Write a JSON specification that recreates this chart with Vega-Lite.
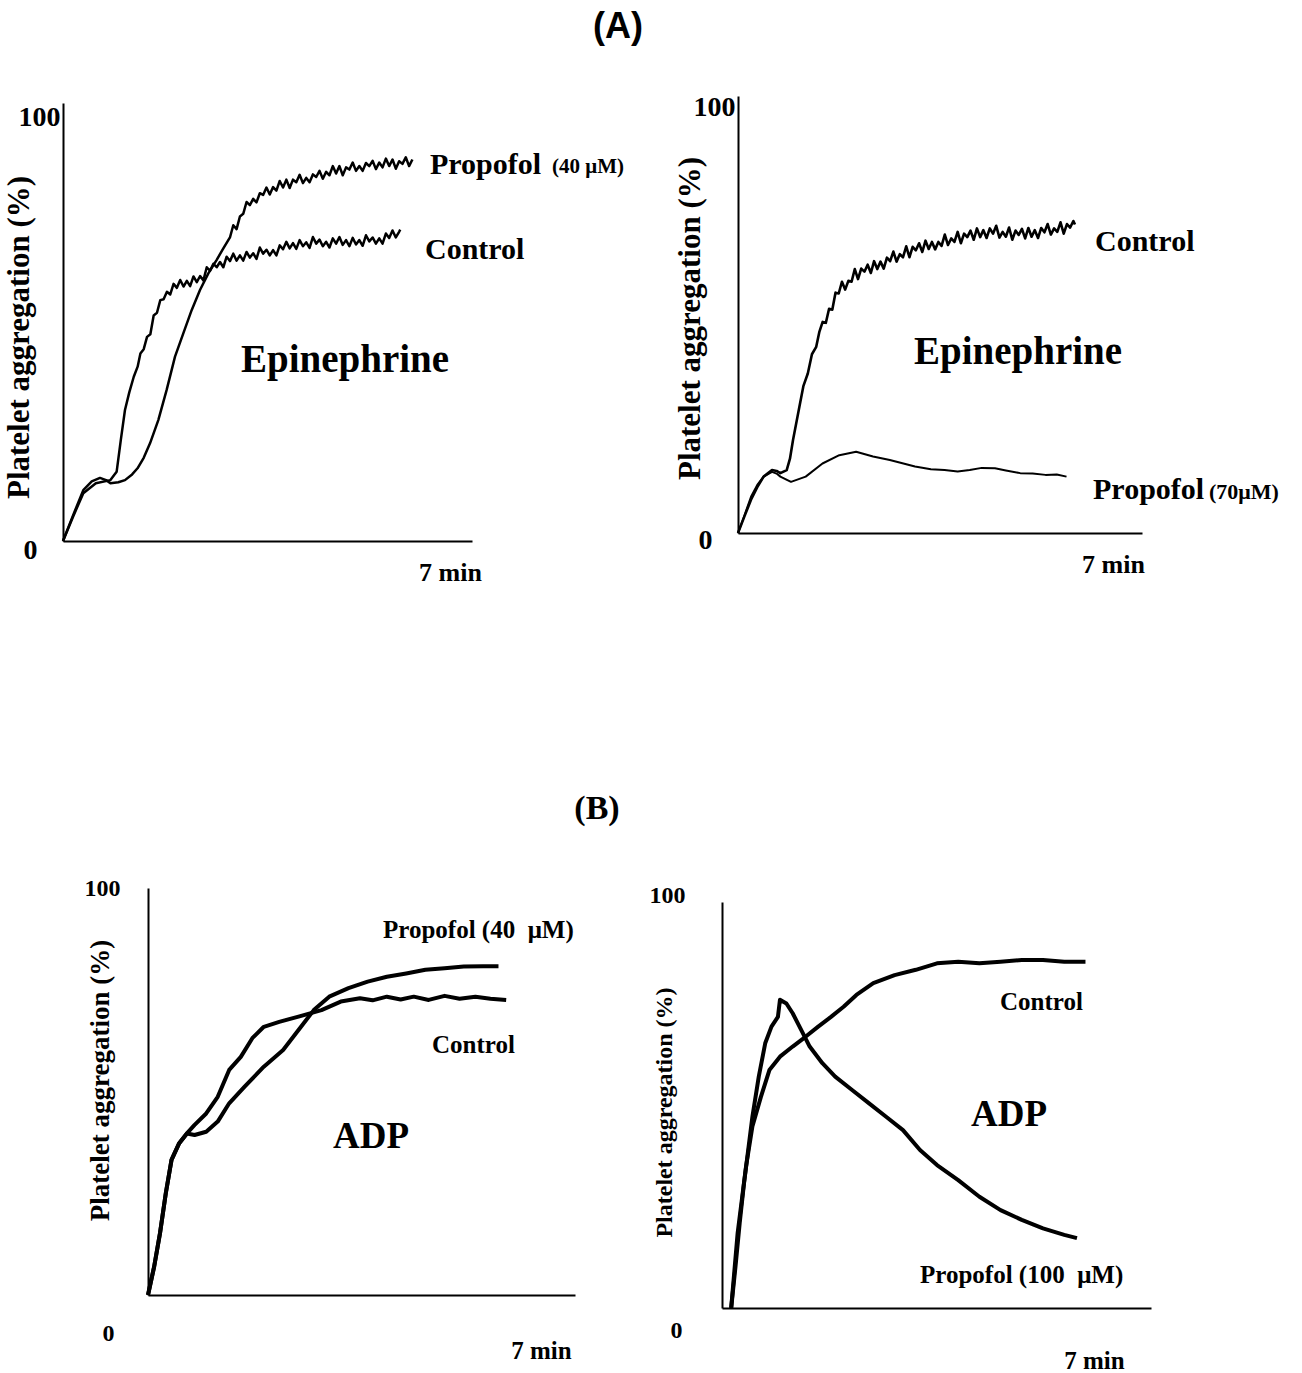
{
  "$schema": "https://vega.github.io/schema/vega-lite/v6.json",
  "background": "white",
  "padding": {"left": 3, "top": 9, "right": 5, "bottom": 3},
  "bounds": "flush",
  "spacing": 792,
  "config": {
    "view": {"stroke": null},
    "axis": {
      "grid": false, "ticks": false, "tickSize": 0,
      "domainColor": "black", "domainWidth": 2,
      "labelColor": "black", "labelFont": "Liberation Serif", "labelFontWeight": "bold",
      "labelFlush": false, "labelOverlap": false, "labelBaseline": "middle",
      "titleColor": "black", "titleFont": "Liberation Serif", "titleFontWeight": "bold",
      "titleBaseline": "middle", "titleAlign": "center", "titleAngle": -90
    },
    "text": {"font": "Liberation Serif", "fontWeight": "bold", "color": "black"}
  },
  "datasets": {
    "curves": [
      {"panel":"A1","series":"Control","t":0,"agg":0},
      {"panel":"A1","series":"Control","t":0.18,"agg":5.5},
      {"panel":"A1","series":"Control","t":0.367,"agg":10.9},
      {"panel":"A1","series":"Control","t":0.594,"agg":13.2},
      {"panel":"A1","series":"Control","t":0.858,"agg":13.9},
      {"panel":"A1","series":"Control","t":0.97,"agg":15.8},
      {"panel":"A1","series":"Control","t":1.046,"agg":23.1},
      {"panel":"A1","series":"Control","t":1.121,"agg":29.9},
      {"panel":"A1","series":"Control","t":1.2,"agg":34.0},
      {"panel":"A1","series":"Control","t":1.28,"agg":37.5},
      {"panel":"A1","series":"Control","t":1.35,"agg":39.8},
      {"panel":"A1","series":"Control","t":1.40,"agg":42.8},
      {"panel":"A1","series":"Control","t":1.46,"agg":43.8},
      {"panel":"A1","series":"Control","t":1.52,"agg":46.6},
      {"panel":"A1","series":"Control","t":1.58,"agg":47.2},
      {"panel":"A1","series":"Control","t":1.64,"agg":51.5},
      {"panel":"A1","series":"Control","t":1.70,"agg":52.1},
      {"panel":"A1","series":"Control","t":1.76,"agg":55.0},
      {"panel":"A1","series":"Control","t":1.82,"agg":55.2},
      {"panel":"A1","series":"Control","t":1.88,"agg":56.9},
      {"panel":"A1","series":"Control","t":1.94,"agg":56.3},
      {"panel":"A1","series":"Control","t":2.00,"agg":58.7},
      {"panel":"A1","series":"Control","t":2.06,"agg":57.8},
      {"panel":"A1","series":"Control","t":2.12,"agg":59.6},
      {"panel":"A1","series":"Control","t":2.18,"agg":58.1},
      {"panel":"A1","series":"Control","t":2.24,"agg":59.4},
      {"panel":"A1","series":"Control","t":2.30,"agg":58.2},
      {"panel":"A1","series":"Control","t":2.36,"agg":60.4},
      {"panel":"A1","series":"Control","t":2.42,"agg":59.1},
      {"panel":"A1","series":"Control","t":2.48,"agg":60.5},
      {"panel":"A1","series":"Control","t":2.54,"agg":59.5},
      {"panel":"A1","series":"Control","t":2.60,"agg":62.5},
      {"panel":"A1","series":"Control","t":2.66,"agg":61.7},
      {"panel":"A1","series":"Control","t":2.72,"agg":63.3},
      {"panel":"A1","series":"Control","t":2.78,"agg":62.5},
      {"panel":"A1","series":"Control","t":2.84,"agg":63.7},
      {"panel":"A1","series":"Control","t":2.90,"agg":62.5},
      {"panel":"A1","series":"Control","t":2.96,"agg":64.9},
      {"panel":"A1","series":"Control","t":3.02,"agg":63.9},
      {"panel":"A1","series":"Control","t":3.08,"agg":65.6},
      {"panel":"A1","series":"Control","t":3.14,"agg":64.0},
      {"panel":"A1","series":"Control","t":3.20,"agg":65.2},
      {"panel":"A1","series":"Control","t":3.26,"agg":64.0},
      {"panel":"A1","series":"Control","t":3.32,"agg":66.0},
      {"panel":"A1","series":"Control","t":3.38,"agg":64.7},
      {"panel":"A1","series":"Control","t":3.44,"agg":65.7},
      {"panel":"A1","series":"Control","t":3.50,"agg":64.4},
      {"panel":"A1","series":"Control","t":3.56,"agg":67.0},
      {"panel":"A1","series":"Control","t":3.62,"agg":65.6},
      {"panel":"A1","series":"Control","t":3.68,"agg":66.5},
      {"panel":"A1","series":"Control","t":3.74,"agg":65.2},
      {"panel":"A1","series":"Control","t":3.80,"agg":66.4},
      {"panel":"A1","series":"Control","t":3.86,"agg":65.2},
      {"panel":"A1","series":"Control","t":3.92,"agg":67.5},
      {"panel":"A1","series":"Control","t":3.98,"agg":66.6},
      {"panel":"A1","series":"Control","t":4.04,"agg":68.3},
      {"panel":"A1","series":"Control","t":4.10,"agg":66.8},
      {"panel":"A1","series":"Control","t":4.16,"agg":68.0},
      {"panel":"A1","series":"Control","t":4.22,"agg":66.7},
      {"panel":"A1","series":"Control","t":4.28,"agg":68.7},
      {"panel":"A1","series":"Control","t":4.34,"agg":67.3},
      {"panel":"A1","series":"Control","t":4.40,"agg":68.2},
      {"panel":"A1","series":"Control","t":4.46,"agg":66.9},
      {"panel":"A1","series":"Control","t":4.52,"agg":69.4},
      {"panel":"A1","series":"Control","t":4.58,"agg":67.9},
      {"panel":"A1","series":"Control","t":4.64,"agg":68.8},
      {"panel":"A1","series":"Control","t":4.70,"agg":67.3},
      {"panel":"A1","series":"Control","t":4.76,"agg":68.3},
      {"panel":"A1","series":"Control","t":4.82,"agg":67.0},
      {"panel":"A1","series":"Control","t":4.88,"agg":69.1},
      {"panel":"A1","series":"Control","t":4.94,"agg":67.9},
      {"panel":"A1","series":"Control","t":5.00,"agg":69.4},
      {"panel":"A1","series":"Control","t":5.06,"agg":67.6},
      {"panel":"A1","series":"Control","t":5.12,"agg":68.7},
      {"panel":"A1","series":"Control","t":5.18,"agg":67.3},
      {"panel":"A1","series":"Control","t":5.24,"agg":69.2},
      {"panel":"A1","series":"Control","t":5.30,"agg":67.7},
      {"panel":"A1","series":"Control","t":5.36,"agg":68.7},
      {"panel":"A1","series":"Control","t":5.42,"agg":67.4},
      {"panel":"A1","series":"Control","t":5.48,"agg":69.8},
      {"panel":"A1","series":"Control","t":5.54,"agg":68.4},
      {"panel":"A1","series":"Control","t":5.60,"agg":69.3},
      {"panel":"A1","series":"Control","t":5.66,"agg":67.9},
      {"panel":"A1","series":"Control","t":5.72,"agg":69.1},
      {"panel":"A1","series":"Control","t":5.78,"agg":67.9},
      {"panel":"A1","series":"Control","t":5.84,"agg":70.2},
      {"panel":"A1","series":"Control","t":5.90,"agg":69.2},
      {"panel":"A1","series":"Control","t":5.96,"agg":70.9},
      {"panel":"A1","series":"Control","t":6.02,"agg":69.3},
      {"panel":"A1","series":"Control","t":6.08,"agg":70.6},
      {"panel":"A1","series":"Control","t":6.10,"agg":71.1},

      {"panel":"A1","series":"Propofol","t":0,"agg":0},
      {"panel":"A1","series":"Propofol","t":0.18,"agg":5.8},
      {"panel":"A1","series":"Propofol","t":0.367,"agg":11.6},
      {"panel":"A1","series":"Propofol","t":0.52,"agg":13.6},
      {"panel":"A1","series":"Propofol","t":0.669,"agg":14.4},
      {"panel":"A1","series":"Propofol","t":0.78,"agg":13.9},
      {"panel":"A1","series":"Propofol","t":0.858,"agg":13.2},
      {"panel":"A1","series":"Propofol","t":1.0,"agg":13.4},
      {"panel":"A1","series":"Propofol","t":1.121,"agg":13.9},
      {"panel":"A1","series":"Propofol","t":1.25,"agg":15.2},
      {"panel":"A1","series":"Propofol","t":1.348,"agg":16.6},
      {"panel":"A1","series":"Propofol","t":1.46,"agg":19.0},
      {"panel":"A1","series":"Propofol","t":1.574,"agg":22.3},
      {"panel":"A1","series":"Propofol","t":1.724,"agg":27.6},
      {"panel":"A1","series":"Propofol","t":1.875,"agg":34.5},
      {"panel":"A1","series":"Propofol","t":2.026,"agg":42.1},
      {"panel":"A1","series":"Propofol","t":2.176,"agg":47.4},
      {"panel":"A1","series":"Propofol","t":2.327,"agg":52.7},
      {"panel":"A1","series":"Propofol","t":2.478,"agg":57.3},
      {"panel":"A1","series":"Propofol","t":2.629,"agg":61.1},
      {"panel":"A1","series":"Propofol","t":2.78,"agg":64.2},
      {"panel":"A1","series":"Propofol","t":2.90,"agg":66.8},
      {"panel":"A1","series":"Propofol","t":3.02,"agg":69.3},
      {"panel":"A1","series":"Propofol","t":3.08,"agg":72.1},
      {"panel":"A1","series":"Propofol","t":3.14,"agg":71.2},
      {"panel":"A1","series":"Propofol","t":3.20,"agg":74.1},
      {"panel":"A1","series":"Propofol","t":3.26,"agg":74.7},
      {"panel":"A1","series":"Propofol","t":3.32,"agg":77.4},
      {"panel":"A1","series":"Propofol","t":3.38,"agg":76.7},
      {"panel":"A1","series":"Propofol","t":3.44,"agg":78.1},
      {"panel":"A1","series":"Propofol","t":3.50,"agg":77.3},
      {"panel":"A1","series":"Propofol","t":3.56,"agg":79.4},
      {"panel":"A1","series":"Propofol","t":3.62,"agg":79.0},
      {"panel":"A1","series":"Propofol","t":3.68,"agg":80.7},
      {"panel":"A1","series":"Propofol","t":3.74,"agg":79.1},
      {"panel":"A1","series":"Propofol","t":3.80,"agg":80.8},
      {"panel":"A1","series":"Propofol","t":3.86,"agg":80.0},
      {"panel":"A1","series":"Propofol","t":3.92,"agg":82.2},
      {"panel":"A1","series":"Propofol","t":3.98,"agg":80.7},
      {"panel":"A1","series":"Propofol","t":4.04,"agg":82.5},
      {"panel":"A1","series":"Propofol","t":4.10,"agg":80.6},
      {"panel":"A1","series":"Propofol","t":4.16,"agg":82.5},
      {"panel":"A1","series":"Propofol","t":4.22,"agg":81.9},
      {"panel":"A1","series":"Propofol","t":4.28,"agg":83.6},
      {"panel":"A1","series":"Propofol","t":4.34,"agg":81.7},
      {"panel":"A1","series":"Propofol","t":4.40,"agg":82.9},
      {"panel":"A1","series":"Propofol","t":4.46,"agg":81.9},
      {"panel":"A1","series":"Propofol","t":4.52,"agg":83.7},
      {"panel":"A1","series":"Propofol","t":4.58,"agg":83.1},
      {"panel":"A1","series":"Propofol","t":4.64,"agg":84.5},
      {"panel":"A1","series":"Propofol","t":4.70,"agg":82.7},
      {"panel":"A1","series":"Propofol","t":4.76,"agg":84.3},
      {"panel":"A1","series":"Propofol","t":4.82,"agg":83.5},
      {"panel":"A1","series":"Propofol","t":4.88,"agg":85.6},
      {"panel":"A1","series":"Propofol","t":4.94,"agg":83.9},
      {"panel":"A1","series":"Propofol","t":5.00,"agg":85.6},
      {"panel":"A1","series":"Propofol","t":5.06,"agg":83.5},
      {"panel":"A1","series":"Propofol","t":5.12,"agg":85.3},
      {"panel":"A1","series":"Propofol","t":5.18,"agg":84.8},
      {"panel":"A1","series":"Propofol","t":5.24,"agg":86.4},
      {"panel":"A1","series":"Propofol","t":5.30,"agg":84.5},
      {"panel":"A1","series":"Propofol","t":5.36,"agg":85.6},
      {"panel":"A1","series":"Propofol","t":5.42,"agg":84.5},
      {"panel":"A1","series":"Propofol","t":5.48,"agg":86.3},
      {"panel":"A1","series":"Propofol","t":5.54,"agg":85.6},
      {"panel":"A1","series":"Propofol","t":5.60,"agg":86.8},
      {"panel":"A1","series":"Propofol","t":5.66,"agg":84.9},
      {"panel":"A1","series":"Propofol","t":5.72,"agg":86.4},
      {"panel":"A1","series":"Propofol","t":5.78,"agg":85.3},
      {"panel":"A1","series":"Propofol","t":5.84,"agg":87.3},
      {"panel":"A1","series":"Propofol","t":5.90,"agg":85.6},
      {"panel":"A1","series":"Propofol","t":5.96,"agg":87.1},
      {"panel":"A1","series":"Propofol","t":6.02,"agg":85.0},
      {"panel":"A1","series":"Propofol","t":6.08,"agg":86.7},
      {"panel":"A1","series":"Propofol","t":6.14,"agg":86.1},
      {"panel":"A1","series":"Propofol","t":6.20,"agg":87.6},
      {"panel":"A1","series":"Propofol","t":6.26,"agg":85.6},
      {"panel":"A1","series":"Propofol","t":6.32,"agg":87.1},

      {"panel":"A2","series":"Control","t":0,"agg":0},
      {"panel":"A2","series":"Control","t":0.12,"agg":3.8},
      {"panel":"A2","series":"Control","t":0.243,"agg":7.6},
      {"panel":"A2","series":"Control","t":0.36,"agg":10.5},
      {"panel":"A2","series":"Control","t":0.478,"agg":12.9},
      {"panel":"A2","series":"Control","t":0.635,"agg":14.4},
      {"panel":"A2","series":"Control","t":0.72,"agg":14.2},
      {"panel":"A2","series":"Control","t":0.791,"agg":13.7},
      {"panel":"A2","series":"Control","t":0.909,"agg":14.4},
      {"panel":"A2","series":"Control","t":0.97,"agg":17.0},
      {"panel":"A2","series":"Control","t":1.027,"agg":21.3},
      {"panel":"A2","series":"Control","t":1.146,"agg":28.9},
      {"panel":"A2","series":"Control","t":1.22,"agg":33.6},
      {"panel":"A2","series":"Control","t":1.303,"agg":36.5},
      {"panel":"A2","series":"Control","t":1.38,"agg":40.9},
      {"panel":"A2","series":"Control","t":1.46,"agg":42.6},
      {"panel":"A2","series":"Control","t":1.52,"agg":46.1},
      {"panel":"A2","series":"Control","t":1.58,"agg":48.3},
      {"panel":"A2","series":"Control","t":1.64,"agg":48.1},
      {"panel":"A2","series":"Control","t":1.70,"agg":51.3},
      {"panel":"A2","series":"Control","t":1.76,"agg":51.1},
      {"panel":"A2","series":"Control","t":1.82,"agg":55.0},
      {"panel":"A2","series":"Control","t":1.88,"agg":54.8},
      {"panel":"A2","series":"Control","t":1.94,"agg":57.5},
      {"panel":"A2","series":"Control","t":2.00,"agg":55.7},
      {"panel":"A2","series":"Control","t":2.06,"agg":57.7},
      {"panel":"A2","series":"Control","t":2.12,"agg":57.5},
      {"panel":"A2","series":"Control","t":2.18,"agg":60.4},
      {"panel":"A2","series":"Control","t":2.24,"agg":58.1},
      {"panel":"A2","series":"Control","t":2.30,"agg":60.5},
      {"panel":"A2","series":"Control","t":2.36,"agg":59.8},
      {"panel":"A2","series":"Control","t":2.42,"agg":61.4},
      {"panel":"A2","series":"Control","t":2.48,"agg":59.5},
      {"panel":"A2","series":"Control","t":2.54,"agg":62.2},
      {"panel":"A2","series":"Control","t":2.60,"agg":60.4},
      {"panel":"A2","series":"Control","t":2.66,"agg":62.1},
      {"panel":"A2","series":"Control","t":2.72,"agg":60.5},
      {"panel":"A2","series":"Control","t":2.78,"agg":63.0},
      {"panel":"A2","series":"Control","t":2.84,"agg":62.2},
      {"panel":"A2","series":"Control","t":2.90,"agg":64.4},
      {"panel":"A2","series":"Control","t":2.96,"agg":62.1},
      {"panel":"A2","series":"Control","t":3.02,"agg":63.8},
      {"panel":"A2","series":"Control","t":3.08,"agg":63.1},
      {"panel":"A2","series":"Control","t":3.14,"agg":65.6},
      {"panel":"A2","series":"Control","t":3.20,"agg":63.1},
      {"panel":"A2","series":"Control","t":3.26,"agg":65.5},
      {"panel":"A2","series":"Control","t":3.32,"agg":64.7},
      {"panel":"A2","series":"Control","t":3.38,"agg":66.3},
      {"panel":"A2","series":"Control","t":3.44,"agg":64.3},
      {"panel":"A2","series":"Control","t":3.50,"agg":66.9},
      {"panel":"A2","series":"Control","t":3.56,"agg":65.0},
      {"panel":"A2","series":"Control","t":3.62,"agg":66.6},
      {"panel":"A2","series":"Control","t":3.68,"agg":64.9},
      {"panel":"A2","series":"Control","t":3.74,"agg":66.6},
      {"panel":"A2","series":"Control","t":3.80,"agg":65.7},
      {"panel":"A2","series":"Control","t":3.86,"agg":68.3},
      {"panel":"A2","series":"Control","t":3.92,"agg":65.9},
      {"panel":"A2","series":"Control","t":3.98,"agg":67.4},
      {"panel":"A2","series":"Control","t":4.04,"agg":66.6},
      {"panel":"A2","series":"Control","t":4.10,"agg":68.9},
      {"panel":"A2","series":"Control","t":4.16,"agg":66.3},
      {"panel":"A2","series":"Control","t":4.22,"agg":68.5},
      {"panel":"A2","series":"Control","t":4.28,"agg":67.7},
      {"panel":"A2","series":"Control","t":4.34,"agg":69.2},
      {"panel":"A2","series":"Control","t":4.40,"agg":67.1},
      {"panel":"A2","series":"Control","t":4.46,"agg":69.7},
      {"panel":"A2","series":"Control","t":4.52,"agg":67.7},
      {"panel":"A2","series":"Control","t":4.58,"agg":69.3},
      {"panel":"A2","series":"Control","t":4.64,"agg":67.5},
      {"panel":"A2","series":"Control","t":4.70,"agg":69.7},
      {"panel":"A2","series":"Control","t":4.76,"agg":68.5},
      {"panel":"A2","series":"Control","t":4.82,"agg":70.3},
      {"panel":"A2","series":"Control","t":4.88,"agg":67.6},
      {"panel":"A2","series":"Control","t":4.94,"agg":68.9},
      {"panel":"A2","series":"Control","t":5.00,"agg":67.8},
      {"panel":"A2","series":"Control","t":5.06,"agg":69.9},
      {"panel":"A2","series":"Control","t":5.12,"agg":67.1},
      {"panel":"A2","series":"Control","t":5.18,"agg":69.2},
      {"panel":"A2","series":"Control","t":5.24,"agg":68.2},
      {"panel":"A2","series":"Control","t":5.30,"agg":69.6},
      {"panel":"A2","series":"Control","t":5.36,"agg":67.4},
      {"panel":"A2","series":"Control","t":5.42,"agg":69.8},
      {"panel":"A2","series":"Control","t":5.48,"agg":67.8},
      {"panel":"A2","series":"Control","t":5.54,"agg":69.3},
      {"panel":"A2","series":"Control","t":5.60,"agg":67.5},
      {"panel":"A2","series":"Control","t":5.66,"agg":69.8},
      {"panel":"A2","series":"Control","t":5.72,"agg":68.8},
      {"panel":"A2","series":"Control","t":5.78,"agg":70.7},
      {"panel":"A2","series":"Control","t":5.84,"agg":68.3},
      {"panel":"A2","series":"Control","t":5.90,"agg":69.7},
      {"panel":"A2","series":"Control","t":5.96,"agg":68.9},
      {"panel":"A2","series":"Control","t":6.02,"agg":71.1},
      {"panel":"A2","series":"Control","t":6.08,"agg":68.5},
      {"panel":"A2","series":"Control","t":6.14,"agg":70.7},
      {"panel":"A2","series":"Control","t":6.20,"agg":69.9},
      {"panel":"A2","series":"Control","t":6.26,"agg":71.4},
      {"panel":"A2","series":"Control","t":6.29,"agg":70.6},

      {"panel":"A2","series":"Propofol","t":0,"agg":0},
      {"panel":"A2","series":"Propofol","t":0.12,"agg":4.0},
      {"panel":"A2","series":"Propofol","t":0.243,"agg":8.3},
      {"panel":"A2","series":"Propofol","t":0.36,"agg":11.0},
      {"panel":"A2","series":"Propofol","t":0.478,"agg":12.9},
      {"panel":"A2","series":"Propofol","t":0.635,"agg":14.0},
      {"panel":"A2","series":"Propofol","t":0.72,"agg":13.6},
      {"panel":"A2","series":"Propofol","t":0.791,"agg":12.9},
      {"panel":"A2","series":"Propofol","t":0.989,"agg":11.7},
      {"panel":"A2","series":"Propofol","t":1.264,"agg":12.9},
      {"panel":"A2","series":"Propofol","t":1.577,"agg":15.9},
      {"panel":"A2","series":"Propofol","t":1.891,"agg":17.8},
      {"panel":"A2","series":"Propofol","t":2.205,"agg":18.6},
      {"panel":"A2","series":"Propofol","t":2.52,"agg":17.5},
      {"panel":"A2","series":"Propofol","t":2.834,"agg":16.7},
      {"panel":"A2","series":"Propofol","t":3.304,"agg":15.2},
      {"panel":"A2","series":"Propofol","t":3.6,"agg":14.6},
      {"panel":"A2","series":"Propofol","t":3.855,"agg":14.4},
      {"panel":"A2","series":"Propofol","t":4.1,"agg":14.1},
      {"panel":"A2","series":"Propofol","t":4.325,"agg":14.4},
      {"panel":"A2","series":"Propofol","t":4.55,"agg":14.9},
      {"panel":"A2","series":"Propofol","t":4.797,"agg":14.8},
      {"panel":"A2","series":"Propofol","t":5.0,"agg":14.3},
      {"panel":"A2","series":"Propofol","t":5.268,"agg":13.7},
      {"panel":"A2","series":"Propofol","t":5.5,"agg":13.6},
      {"panel":"A2","series":"Propofol","t":5.74,"agg":13.3},
      {"panel":"A2","series":"Propofol","t":5.95,"agg":13.4},
      {"panel":"A2","series":"Propofol","t":6.132,"agg":12.9},

      {"panel":"B1","series":"Control","t":0,"agg":0},
      {"panel":"B1","series":"Control","t":0.110,"agg":7.0},
      {"panel":"B1","series":"Control","t":0.214,"agg":15.2},
      {"panel":"B1","series":"Control","t":0.317,"agg":25.0},
      {"panel":"B1","series":"Control","t":0.419,"agg":33.2},
      {"panel":"B1","series":"Control","t":0.556,"agg":37.3},
      {"panel":"B1","series":"Control","t":0.693,"agg":39.7},
      {"panel":"B1","series":"Control","t":0.830,"agg":41.8},
      {"panel":"B1","series":"Control","t":1.037,"agg":44.6},
      {"panel":"B1","series":"Control","t":1.242,"agg":48.7},
      {"panel":"B1","series":"Control","t":1.446,"agg":55.3},
      {"panel":"B1","series":"Control","t":1.653,"agg":58.5},
      {"panel":"B1","series":"Control","t":1.858,"agg":63.1},
      {"panel":"B1","series":"Control","t":2.063,"agg":65.9},
      {"panel":"B1","series":"Control","t":2.337,"agg":67.1},
      {"panel":"B1","series":"Control","t":2.681,"agg":68.4},
      {"panel":"B1","series":"Control","t":3.090,"agg":70.0},
      {"panel":"B1","series":"Control","t":3.434,"agg":72.1},
      {"panel":"B1","series":"Control","t":3.776,"agg":72.9},
      {"panel":"B1","series":"Control","t":4.0,"agg":72.4},
      {"panel":"B1","series":"Control","t":4.255,"agg":73.3},
      {"panel":"B1","series":"Control","t":4.5,"agg":72.6},
      {"panel":"B1","series":"Control","t":4.734,"agg":73.3},
      {"panel":"B1","series":"Control","t":5.0,"agg":72.5},
      {"panel":"B1","series":"Control","t":5.283,"agg":73.5},
      {"panel":"B1","series":"Control","t":5.55,"agg":72.8},
      {"panel":"B1","series":"Control","t":5.832,"agg":73.3},
      {"panel":"B1","series":"Control","t":6.1,"agg":72.8},
      {"panel":"B1","series":"Control","t":6.380,"agg":72.5},

      {"panel":"B1","series":"Propofol","t":0,"agg":0},
      {"panel":"B1","series":"Propofol","t":0.110,"agg":7.0},
      {"panel":"B1","series":"Propofol","t":0.214,"agg":15.2},
      {"panel":"B1","series":"Propofol","t":0.317,"agg":25.0},
      {"panel":"B1","series":"Propofol","t":0.419,"agg":33.2},
      {"panel":"B1","series":"Propofol","t":0.556,"agg":37.3},
      {"panel":"B1","series":"Propofol","t":0.693,"agg":39.7},
      {"panel":"B1","series":"Propofol","t":0.830,"agg":39.3},
      {"panel":"B1","series":"Propofol","t":1.037,"agg":40.1},
      {"panel":"B1","series":"Propofol","t":1.242,"agg":42.6},
      {"panel":"B1","series":"Propofol","t":1.446,"agg":47.1},
      {"panel":"B1","series":"Propofol","t":1.721,"agg":51.2},
      {"panel":"B1","series":"Propofol","t":2.063,"agg":56.1},
      {"panel":"B1","series":"Propofol","t":2.407,"agg":60.2},
      {"panel":"B1","series":"Propofol","t":2.681,"agg":65.1},
      {"panel":"B1","series":"Propofol","t":2.953,"agg":70.0},
      {"panel":"B1","series":"Propofol","t":3.228,"agg":73.3},
      {"panel":"B1","series":"Propofol","t":3.571,"agg":75.4},
      {"panel":"B1","series":"Propofol","t":3.913,"agg":77.0},
      {"panel":"B1","series":"Propofol","t":4.255,"agg":78.2},
      {"panel":"B1","series":"Propofol","t":4.599,"agg":79.0},
      {"panel":"B1","series":"Propofol","t":4.941,"agg":79.9},
      {"panel":"B1","series":"Propofol","t":5.283,"agg":80.3},
      {"panel":"B1","series":"Propofol","t":5.625,"agg":80.7},
      {"panel":"B1","series":"Propofol","t":5.969,"agg":80.8},
      {"panel":"B1","series":"Propofol","t":6.243,"agg":80.8},

      {"panel":"B2","series":"Propofol","t":0.173,"agg":0},
      {"panel":"B2","series":"Propofol","t":0.254,"agg":10.2},
      {"panel":"B2","series":"Propofol","t":0.333,"agg":20.9},
      {"panel":"B2","series":"Propofol","t":0.414,"agg":30.7},
      {"panel":"B2","series":"Propofol","t":0.493,"agg":38.9},
      {"panel":"B2","series":"Propofol","t":0.572,"agg":47.1},
      {"panel":"B2","series":"Propofol","t":0.692,"agg":57.0},
      {"panel":"B2","series":"Propofol","t":0.813,"agg":65.2},
      {"panel":"B2","series":"Propofol","t":0.931,"agg":69.3},
      {"panel":"B2","series":"Propofol","t":1.052,"agg":71.7},
      {"panel":"B2","series":"Propofol","t":1.091,"agg":75.9},
      {"panel":"B2","series":"Propofol","t":1.212,"agg":75.0},
      {"panel":"B2","series":"Propofol","t":1.330,"agg":72.6},
      {"panel":"B2","series":"Propofol","t":1.490,"agg":68.5},
      {"panel":"B2","series":"Propofol","t":1.650,"agg":64.4},
      {"panel":"B2","series":"Propofol","t":1.889,"agg":60.3},
      {"panel":"B2","series":"Propofol","t":2.130,"agg":57.0},
      {"panel":"B2","series":"Propofol","t":2.448,"agg":53.7},
      {"panel":"B2","series":"Propofol","t":2.768,"agg":50.4},
      {"panel":"B2","series":"Propofol","t":3.088,"agg":47.1},
      {"panel":"B2","series":"Propofol","t":3.406,"agg":43.8},
      {"panel":"B2","series":"Propofol","t":3.726,"agg":38.9},
      {"panel":"B2","series":"Propofol","t":4.046,"agg":35.2},
      {"panel":"B2","series":"Propofol","t":4.445,"agg":31.5},
      {"panel":"B2","series":"Propofol","t":4.844,"agg":27.4},
      {"panel":"B2","series":"Propofol","t":5.242,"agg":24.1},
      {"panel":"B2","series":"Propofol","t":5.641,"agg":21.7},
      {"panel":"B2","series":"Propofol","t":6.040,"agg":19.6},
      {"panel":"B2","series":"Propofol","t":6.441,"agg":18.0},
      {"panel":"B2","series":"Propofol","t":6.680,"agg":17.2},

      {"panel":"B2","series":"Control","t":0.173,"agg":0},
      {"panel":"B2","series":"Control","t":0.294,"agg":18.4},
      {"panel":"B2","series":"Control","t":0.452,"agg":34.8},
      {"panel":"B2","series":"Control","t":0.572,"agg":44.7},
      {"panel":"B2","series":"Control","t":0.732,"agg":52.0},
      {"panel":"B2","series":"Control","t":0.892,"agg":58.6},
      {"panel":"B2","series":"Control","t":1.091,"agg":61.9},
      {"panel":"B2","series":"Control","t":1.330,"agg":64.4},
      {"panel":"B2","series":"Control","t":1.571,"agg":66.8},
      {"panel":"B2","series":"Control","t":1.810,"agg":69.3},
      {"panel":"B2","series":"Control","t":2.051,"agg":71.7},
      {"panel":"B2","series":"Control","t":2.288,"agg":74.2},
      {"panel":"B2","series":"Control","t":2.529,"agg":77.1},
      {"panel":"B2","series":"Control","t":2.847,"agg":80.0},
      {"panel":"B2","series":"Control","t":3.248,"agg":82.0},
      {"panel":"B2","series":"Control","t":3.647,"agg":83.3},
      {"panel":"B2","series":"Control","t":4.046,"agg":84.9},
      {"panel":"B2","series":"Control","t":4.445,"agg":85.3},
      {"panel":"B2","series":"Control","t":4.844,"agg":84.9},
      {"panel":"B2","series":"Control","t":5.242,"agg":85.3},
      {"panel":"B2","series":"Control","t":5.641,"agg":85.7},
      {"panel":"B2","series":"Control","t":6.040,"agg":85.7},
      {"panel":"B2","series":"Control","t":6.441,"agg":85.3},
      {"panel":"B2","series":"Control","t":6.840,"agg":85.3}
    ],
    "labels": [
      {"panel":"A1","kind":"main","label":"Propofol","t":6.638,"agg":85.8},
      {"panel":"A1","kind":"small","label":"(40 μM)","t":8.845,"agg":85.4},
      {"panel":"A1","kind":"main","label":"Control","t":6.548,"agg":66.4},
      {"panel":"A1","kind":"big","label":"Epinephrine","t":5.101,"agg":41.3},
      {"panel":"A2","kind":"main","label":"Control","t":6.664,"agg":66.6},
      {"panel":"A2","kind":"main","label":"Propofol","t":6.627,"agg":9.8},
      {"panel":"A2","kind":"small","label":"(70μM)","t":8.792,"agg":9.4},
      {"panel":"A2","kind":"big","label":"Epinephrine","t":5.227,"agg":41.4},
      {"panel":"B1","kind":"main","label":"Propofol (40\u00a0 μM)","t":4.186,"agg":89.7},
      {"panel":"B1","kind":"main","label":"Control","t":5.059,"agg":61.4},
      {"panel":"B1","kind":"big","label":"ADP","t":3.972,"agg":38.8},
      {"panel":"B2","kind":"main","label":"Control","t":5.231,"agg":75.4},
      {"panel":"B2","kind":"main","label":"Propofol (100\u00a0 μM)","t":3.726,"agg":8.1},
      {"panel":"B2","kind":"big","label":"ADP","t":5.400,"agg":47.5}
    ]
  },
  "vconcat": [
    {
      "title": {"text": "(A)", "font": "Liberation Sans", "fontWeight": "bold", "fontSize": 36, "color": "black", "anchor": "middle", "frame": "group", "dx": 555, "offset": 11, "baseline": "bottom"},
      "bounds": "flush",
      "spacing": 266,
      "hconcat": [
        {
          "width": 409, "height": 445,
          "encoding": {
            "x": {"field": "t", "type": "quantitative", "scale": {"domain": [0, 7.398], "nice": false, "zero": false},
                  "axis": {"values": [7], "labelExpr": "'7 min'", "labelFontSize": 26, "labelPadding": 31, "title": null}},
            "y": {"field": "agg", "type": "quantitative", "scale": {"domain": [0, 100], "range": [445, 7], "nice": false},
                  "axis": {"values": [0, 100], "title": "Platelet aggregation (%)", "titleFontSize": 31, "titleX": -44, "titleY": 241,
                           "labelFontSize": 28,
                           "labelOffset": {"condition": {"test": "datum.value == 0", "value": 9}, "value": 14},
                           "labelPadding": {"condition": {"test": "datum.value == 0", "value": 26}, "value": 3}}}
          },
          "layer": [
            {"data": {"name": "curves"}, "transform": [{"filter": "datum.panel == 'A1'"}],
             "mark": {"type": "line", "color": "black", "strokeWidth": 2.5, "strokeJoin": "round"},
             "encoding": {"detail": {"field": "series"}}},
            {"data": {"name": "labels"}, "transform": [{"filter": "datum.panel == 'A1' && datum.kind == 'main'"}],
             "mark": {"type": "text", "align": "left", "baseline": "middle", "fontSize": 30},
             "encoding": {"text": {"field": "label"}}},
            {"data": {"name": "labels"}, "transform": [{"filter": "datum.panel == 'A1' && datum.kind == 'small'"}],
             "mark": {"type": "text", "align": "left", "baseline": "middle", "fontSize": 21},
             "encoding": {"text": {"field": "label"}}},
            {"data": {"name": "labels"}, "transform": [{"filter": "datum.panel == 'A1' && datum.kind == 'big'"}],
             "mark": {"type": "text", "align": "center", "baseline": "middle", "fontSize": 39},
             "encoding": {"text": {"field": "label"}}}
          ]
        },
        {
          "width": 404, "height": 437,
          "encoding": {
            "x": {"field": "t", "type": "quantitative", "scale": {"domain": [0, 7.541], "nice": false, "zero": false},
                  "axis": {"values": [7], "labelExpr": "'7 min'", "labelFontSize": 26, "labelPadding": 31, "title": null}},
            "y": {"field": "agg", "type": "quantitative", "scale": {"domain": [0, 100], "nice": false},
                  "axis": {"values": [0, 100], "title": "Platelet aggregation (%)", "titleFontSize": 31, "titleX": -48, "titleY": 222,
                           "labelFontSize": 28,
                           "labelOffset": {"condition": {"test": "datum.value == 0", "value": 7}, "value": 11},
                           "labelPadding": {"condition": {"test": "datum.value == 0", "value": 26}, "value": 3}}}
          },
          "layer": [
            {"data": {"name": "curves"}, "transform": [{"filter": "datum.panel == 'A2'"}],
             "mark": {"type": "line", "color": "black", "strokeJoin": "round"},
             "encoding": {"detail": {"field": "series"},
                          "strokeWidth": {"condition": {"test": "datum.series == 'Propofol'", "value": 2}, "value": 2.6}}},
            {"data": {"name": "labels"}, "transform": [{"filter": "datum.panel == 'A2' && datum.kind == 'main'"}],
             "mark": {"type": "text", "align": "left", "baseline": "middle", "fontSize": 30},
             "encoding": {"text": {"field": "label"}}},
            {"data": {"name": "labels"}, "transform": [{"filter": "datum.panel == 'A2' && datum.kind == 'small'"}],
             "mark": {"type": "text", "align": "left", "baseline": "middle", "fontSize": 22},
             "encoding": {"text": {"field": "label"}}},
            {"data": {"name": "labels"}, "transform": [{"filter": "datum.panel == 'A2' && datum.kind == 'big'"}],
             "mark": {"type": "text", "align": "center", "baseline": "middle", "fontSize": 39},
             "encoding": {"text": {"field": "label"}}}
          ]
        }
      ]
    },
    {
      "title": {"text": "(B)", "font": "Liberation Serif", "fontWeight": "bold", "fontSize": 34, "color": "black", "anchor": "middle", "frame": "group", "dx": 534, "offset": 16, "baseline": "bottom"},
      "bounds": "flush",
      "spacing": 147,
      "hconcat": [
        {
          "width": 512, "height": 407,
          "encoding": {
            "x": {"field": "t", "type": "quantitative", "scale": {"domain": [0, 7.606], "range": [85, 512], "nice": false, "zero": false},
                  "axis": {"values": [7], "labelExpr": "'7 min'", "labelFontSize": 25, "labelPadding": 55, "title": null}},
            "y": {"field": "agg", "type": "quantitative", "scale": {"domain": [0, 100], "nice": false},
                  "axis": {"values": [0, 100], "offset": -85, "title": "Platelet aggregation (%)", "titleFontSize": 27, "titleX": -48, "titleY": 192,
                           "labelFontSize": 24,
                           "labelOffset": {"condition": {"test": "datum.value == 0", "value": 38}, "value": 0},
                           "labelPadding": {"condition": {"test": "datum.value == 0", "value": 34}, "value": 28}}}
          },
          "layer": [
            {"data": {"name": "curves"}, "transform": [{"filter": "datum.panel == 'B1'"}],
             "mark": {"type": "line", "color": "black", "strokeWidth": 4, "strokeJoin": "round"},
             "encoding": {"detail": {"field": "series"}}},
            {"data": {"name": "labels"}, "transform": [{"filter": "datum.panel == 'B1' && datum.kind == 'main'"}],
             "mark": {"type": "text", "align": "left", "baseline": "middle", "fontSize": 25},
             "encoding": {"text": {"field": "label"}}},
            {"data": {"name": "labels"}, "transform": [{"filter": "datum.panel == 'B1' && datum.kind == 'big'"}],
             "mark": {"type": "text", "align": "center", "baseline": "middle", "fontSize": 37},
             "encoding": {"text": {"field": "label"}}}
          ]
        },
        {
          "width": 429, "height": 420,
          "encoding": {
            "x": {"field": "t", "type": "quantitative", "scale": {"domain": [0, 8.073], "nice": false, "zero": false},
                  "axis": {"values": [7], "labelExpr": "'7 min'", "labelFontSize": 25, "labelPadding": 52, "title": null}},
            "y": {"field": "agg", "type": "quantitative", "scale": {"domain": [0, 100], "range": [420, 14], "nice": false},
                  "axis": {"values": [0, 100], "title": "Platelet aggregation (%)", "titleFontSize": 24, "titleX": -58, "titleY": 224,
                           "labelFontSize": 24,
                           "labelOffset": {"condition": {"test": "datum.value == 0", "value": 22}, "value": -7},
                           "labelPadding": {"condition": {"test": "datum.value == 0", "value": 40}, "value": 37}}}
          },
          "layer": [
            {"data": {"name": "curves"}, "transform": [{"filter": "datum.panel == 'B2'"}],
             "mark": {"type": "line", "color": "black", "strokeWidth": 4, "strokeJoin": "round"},
             "encoding": {"detail": {"field": "series"}}},
            {"data": {"name": "labels"}, "transform": [{"filter": "datum.panel == 'B2' && datum.kind == 'main'"}],
             "mark": {"type": "text", "align": "left", "baseline": "middle", "fontSize": 25},
             "encoding": {"text": {"field": "label"}}},
            {"data": {"name": "labels"}, "transform": [{"filter": "datum.panel == 'B2' && datum.kind == 'big'"}],
             "mark": {"type": "text", "align": "center", "baseline": "middle", "fontSize": 37},
             "encoding": {"text": {"field": "label"}}}
          ]
        }
      ]
    }
  ]
}
